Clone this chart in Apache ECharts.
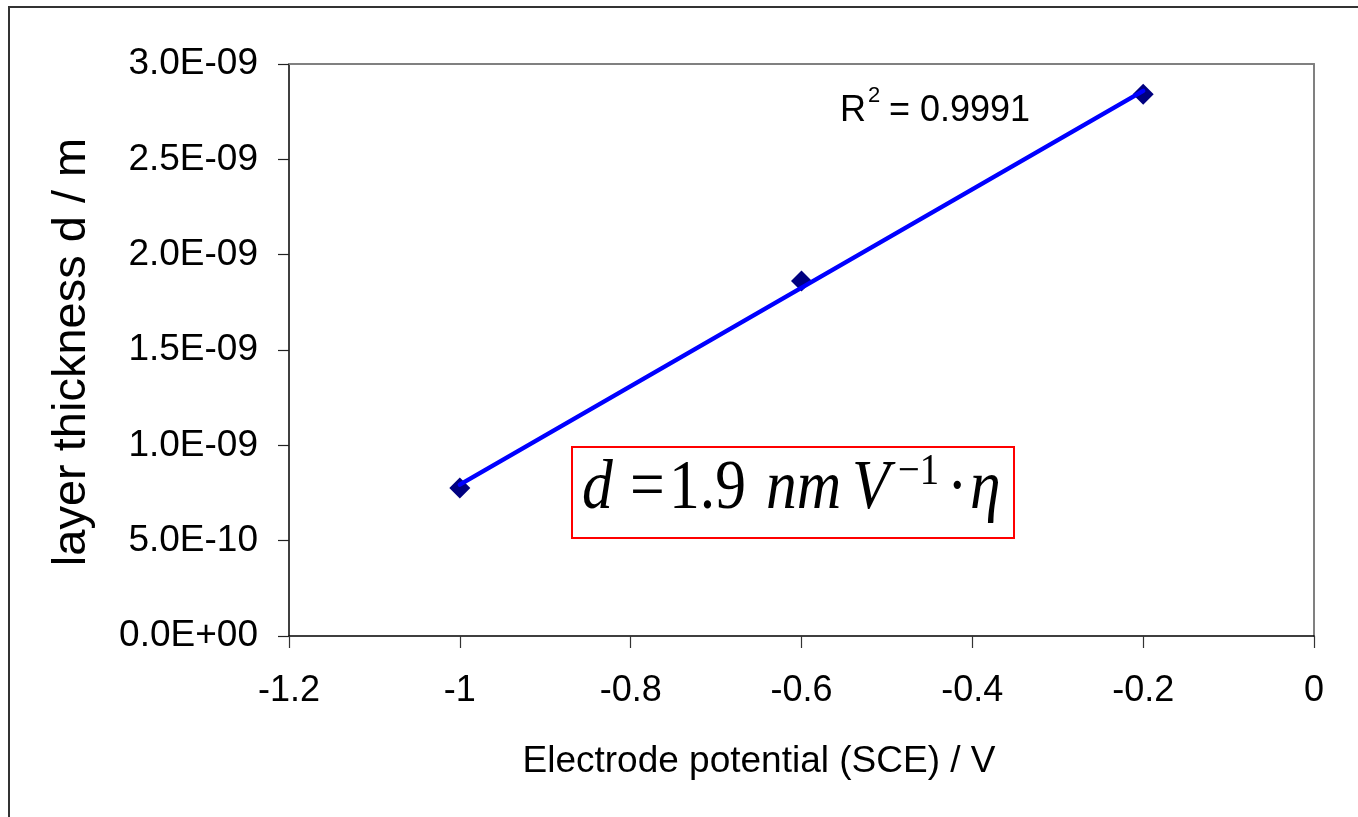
<!DOCTYPE html>
<html>
<head>
<meta charset="utf-8">
<script src="https://cdn.jsdelivr.net/npm/echarts@6/dist/echarts.min.js"></script>
<style>
  html, body { margin: 0; padding: 0; background: #ffffff; }
  #chart { width: 1358px; height: 817px; }
</style>
</head>
<body>
<div id="chart"></div>
<script>
// Measured layer thickness versus electrode potential
const potential = [-1.0, -0.6, -0.2];              // V vs. SCE
const thickness = [7.76e-10, 1.862e-9, 2.841e-9];  // m

// Axis ranges
const xRange = { min: -1.2, max: 0, step: 0.2 };
const yRange = { min: 0, max: 3e-9, step: 5e-10 };

// Annotation texts
const rSquaredText = '0.9991';
const xTitle = 'Electrode potential (SCE) / V';
const yTitle = 'layer thickness d / m';

// Least-squares straight line through the measured points
function linearFit(xs, ys) {
  const n = xs.length;
  const mx = xs.reduce((a, b) => a + b, 0) / n;
  const my = ys.reduce((a, b) => a + b, 0) / n;
  let sxy = 0, sxx = 0;
  for (let i = 0; i < n; i++) {
    sxy += (xs[i] - mx) * (ys[i] - my);
    sxx += (xs[i] - mx) * (xs[i] - mx);
  }
  const slope = sxy / sxx;
  return { slope: slope, intercept: my - slope * mx };
}
const fit = linearFit(potential, thickness);
const trendEnds = [Math.min(...potential), Math.max(...potential)];
const trendData = trendEnds.map(x => [x, fit.intercept + fit.slope * x]);
const points = potential.map((x, i) => [x, thickness[i]]);

// "3.0E-09" style labels
function sciLabel(v) {
  const parts = v.toExponential(1).split('e');
  const e = parseInt(parts[1], 10);
  return parts[0] + 'E' + (e < 0 ? '-' : '+') + String(Math.abs(e)).padStart(2, '0');
}
function plainLabel(v) {
  return String(Number(v.toFixed(1)));
}

const SANS = '"Liberation Sans", Arial, sans-serif';
const SERIF = '"Liberation Serif", "Times New Roman", serif';
const EQ_SCALE = 0.88;

function eqText(x, y, text, size, italic) {
  return {
    type: 'text', x: x, y: y, scaleX: EQ_SCALE, silent: true, z: 10,
    style: {
      text: text, fontSize: size, fontStyle: italic ? 'italic' : 'normal',
      fontFamily: SERIF, fill: '#000000', align: 'left', verticalAlign: 'middle'
    }
  };
}

const chart = echarts.init(document.getElementById('chart'), null, { renderer: 'canvas' });

chart.setOption({
  backgroundColor: '#ffffff',
  animation: false,
  grid: { left: 289, right: 44, top: 64, bottom: 181, containLabel: false },
  xAxis: [
    {
      type: 'value', position: 'bottom',
      min: xRange.min, max: xRange.max, interval: xRange.step,
      axisLine: { show: true, onZero: false, lineStyle: { color: '#000000', width: 1.5 } },
      axisTick: { show: true, inside: false, length: 12, lineStyle: { color: '#333333', width: 1.2 } },
      axisLabel: { margin: 37, fontSize: 36, color: '#000000', fontFamily: SANS, formatter: plainLabel },
      splitLine: { show: false }
    },
    {
      type: 'value', position: 'top',
      min: xRange.min, max: xRange.max, interval: xRange.step,
      axisLine: { show: true, onZero: false, lineStyle: { color: '#808080', width: 2 } },
      axisTick: { show: false }, axisLabel: { show: false }, splitLine: { show: false }
    }
  ],
  yAxis: [
    {
      type: 'value', position: 'left',
      min: yRange.min, max: yRange.max, interval: yRange.step,
      axisLine: { show: true, onZero: false, lineStyle: { color: '#000000', width: 1.5 } },
      axisTick: { show: true, inside: false, length: 11, lineStyle: { color: '#222222', width: 1.2 } },
      axisLabel: { margin: 31, fontSize: 37, color: '#000000', fontFamily: SANS, formatter: sciLabel },
      splitLine: { show: false }
    },
    {
      type: 'value', position: 'right',
      min: yRange.min, max: yRange.max, interval: yRange.step,
      axisLine: { show: true, onZero: false, lineStyle: { color: '#808080', width: 2 } },
      axisTick: { show: false }, axisLabel: { show: false }, splitLine: { show: false }
    }
  ],
  series: [
    {
      name: 'thickness',
      type: 'scatter',
      xAxisIndex: 0, yAxisIndex: 0,
      data: points,
      symbol: 'diamond',
      symbolSize: 21,
      itemStyle: { color: '#000080', opacity: 1 },
      z: 2
    },
    {
      name: 'linear fit',
      type: 'line',
      xAxisIndex: 0, yAxisIndex: 0,
      data: trendData,
      showSymbol: false,
      symbol: 'none',
      lineStyle: { color: '#0000FF', width: 4.5, cap: 'round' },
      z: 3
    }
  ],
  graphic: [
    // chart frame
    {
      type: 'rect', silent: true, z: 0,
      shape: { x: 9, y: 7, width: 1420, height: 900 },
      style: { fill: 'none', stroke: '#333333', lineWidth: 2 }
    },
    // axis titles
    {
      type: 'text', x: 759, y: 762, silent: true,
      style: { text: xTitle, fontSize: 37, fontFamily: SANS, fill: '#000000', align: 'center', verticalAlign: 'middle' }
    },
    {
      type: 'text', x: 72, y: 352, rotation: Math.PI / 2, silent: true,
      style: { text: yTitle, fontSize: 47, fontFamily: SANS, fill: '#000000', align: 'center', verticalAlign: 'middle' }
    },
    // coefficient of determination
    {
      type: 'text', x: 840, y: 111, silent: true,
      style: { text: 'R', fontSize: 36, fontFamily: SANS, fill: '#000000', align: 'left', verticalAlign: 'middle' }
    },
    {
      type: 'text', x: 868, y: 96, silent: true,
      style: { text: '2', fontSize: 22, fontFamily: SANS, fill: '#000000', align: 'left', verticalAlign: 'middle' }
    },
    {
      type: 'text', x: 889, y: 111, silent: true,
      style: { text: '= ' + rSquaredText, fontSize: 36, fontFamily: SANS, fill: '#000000', align: 'left', verticalAlign: 'middle' }
    },
    // boxed growth law
    {
      type: 'rect', silent: true, z: 9,
      shape: { x: 572, y: 447, width: 442, height: 91 },
      style: { fill: '#ffffff', stroke: '#FF0000', lineWidth: 2 }
    },
    eqText(582, 490, 'd', 70, true),
    eqText(630, 490, '=', 70, false),
    eqText(669, 490, '1.9', 70, false),
    eqText(766, 490, 'nm', 70, true),
    eqText(852, 490, 'V', 70, true),
    eqText(898, 472, '\u22121', 44, false),
    eqText(947, 490, '\u00B7', 70, false),
    eqText(970, 490, '\u03B7', 70, true)
  ]
});
</script>
</body>
</html>
